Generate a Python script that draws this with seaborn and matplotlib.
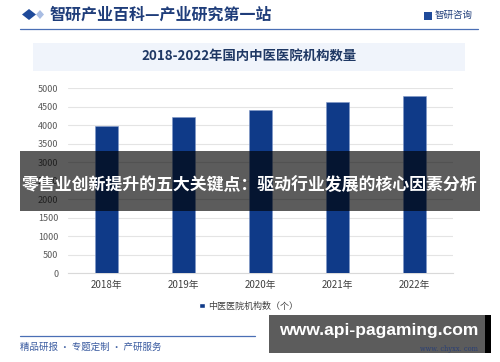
import matplotlib
matplotlib.use("Agg")
import matplotlib.pyplot as plt
import seaborn as sns
import pandas as pd
from matplotlib.patches import Rectangle, Polygon

# ---- data ----
years = ["2018年", "2019年", "2020年", "2021年", "2022年"]
counts = [3977, 4221, 4426, 4630, 4779]
yticks = [0, 500, 1000, 1500, 2000, 2500, 3000, 3500, 4000, 4500, 5000]
series_name = "中医医院机构数（个）"
header_title = "智研产业百科—产业研究第一站"
chart_title = "2018-2022年国内中医医院机构数量"
overlay_text = "零售业创新提升的五大关键点：驱动行业发展的核心因素分析"
footer_text = "精品研报 · 专题定制 · 产研服务"
logo_text = "智研咨询"
site_text = "www.api-pagaming.com"
small_site = "www. chyxx. com"

sns.set_theme(style="white")
plt.rcParams['font.family'] = ['Noto Sans CJK SC', 'DejaVu Sans']

W, H = 500, 362
fig = plt.figure(figsize=(5, 3.62), dpi=100)
fig.patch.set_facecolor("white")

def fx(x):
    return x / W

def fy(y):
    return 1 - y / H

bar_color = "#0f3a88"

# ---- axes ----
ax = fig.add_axes([fx(68), fy(273.3), fx(453) - fx(68), fy(88.3) - fy(273.3)])
ax.set_facecolor((1, 1, 1, 0))
df = pd.DataFrame({"year": years, "count": counts})
sns.barplot(data=df, x="year", y="count", color=bar_color, saturation=1, width=0.305,
            edgecolor="#7f97c8", linewidth=0.4, ax=ax, zorder=3)
ax.set_ylim(0, 5000)
ax.set_xlim(-0.5, 4.5)
ax.set_yticks(yticks)
ax.set_yticklabels([str(v) for v in yticks])
ax.grid(axis="y", color="#e4e4e4", linewidth=0.8)
ax.grid(axis="x", visible=False)
ax.set_axisbelow(True)
for s in ["top", "right", "left"]:
    ax.spines[s].set_visible(False)
ax.spines["bottom"].set_color("#d9d9d9")
ax.spines["bottom"].set_linewidth(0.8)
ax.tick_params(axis="y", length=0, pad=7, labelsize=6.5, labelcolor="#595959")
ax.tick_params(axis="x", length=0, pad=5, labelsize=7, labelcolor="#404040")
ax.set_xlabel("")
ax.set_ylabel("")

# legend
handle = Rectangle((0, 0), 1, 1, facecolor=bar_color)
fig.legend([handle], [series_name], loc="center", bbox_to_anchor=(fx(249), fy(306)),
           frameon=False, fontsize=6.5, handlelength=0.6, handleheight=0.6,
           handletextpad=0.4, labelcolor="#404040")

# ---- header ----
fig.patches.append(Polygon([[fx(22), fy(14.5)], [fx(29), fy(9)], [fx(36), fy(14.5)], [fx(29), fy(20)]],
                           closed=True, transform=fig.transFigure, facecolor="#1f4a9a", edgecolor="none"))
fig.patches.append(Polygon([[fx(36), fy(14.5)], [fx(40), fy(10)], [fx(44), fy(14.5)], [fx(40), fy(19)]],
                           closed=True, transform=fig.transFigure, facecolor="#a9bde3", edgecolor="none"))
fig.text(fx(50), fy(15), header_title, fontsize=11.5, fontweight="bold", color="#1f3d7a",
         ha="left", va="center")
fig.lines.append(plt.Line2D([fx(20), fx(478)], [fy(29.3), fy(29.3)], transform=fig.transFigure,
                            color="#4a6fb5", linewidth=0.9))
# logo
fig.patches.append(Rectangle((fx(424), fy(20)), fx(8), 8 / H, transform=fig.transFigure,
                             facecolor="#1f4a9a", edgecolor="none"))
fig.text(fx(435), fy(15.5), logo_text, fontsize=6.8, color="#1f3d7a", ha="left", va="center")

# title box
fig.patches.append(Rectangle((fx(33), fy(71)), fx(465) - fx(33), 28 / H, transform=fig.transFigure,
                             facecolor="#f0f4fb", edgecolor="none", zorder=0.5))
fig.text(fx(249.5), fy(57), chart_title, fontsize=9.6, fontweight="bold", color="#1f3864",
         ha="center", va="center")

# footer
fig.lines.append(plt.Line2D([fx(20), fx(255)], [fy(335.5), fy(335.5)], transform=fig.transFigure,
                            color="#4a6fb5", linewidth=0.9))
fig.text(fx(20), fy(347), footer_text, fontsize=6.8, color="#3a5ba0", ha="left", va="center")

# ---- overlay band ----
fig.patches.append(Rectangle((fx(20), fy(210.5)), fx(480) - fx(20), 59.5 / H, transform=fig.transFigure,
                             facecolor="black", alpha=0.64, edgecolor="none", zorder=10))
fig.text(fx(249), fy(185), overlay_text, fontsize=12.2, fontweight="bold", color="white",
         ha="center", va="center", zorder=11)

# ---- bottom-right site box ----
fig.patches.append(Rectangle((fx(269), fy(353)), fx(485) - fx(269), 38 / H, transform=fig.transFigure,
                             facecolor="#5c5c5c", edgecolor="none", zorder=10))
fig.patches.append(Rectangle((fx(485), fy(353)), fx(491) - fx(485), 38 / H, transform=fig.transFigure,
                             facecolor="black", edgecolor="none", zorder=10))
fig.text(fx(379), fy(331), site_text, fontsize=12.6, fontweight="bold", color="white",
         family=["Liberation Sans", "DejaVu Sans"], ha="center", va="center", zorder=11)
fig.text(fx(449), fy(349), small_site, fontsize=4.8, color="#2a3f75",
         family=["DejaVu Serif"], ha="center", va="center", zorder=11)

fig.savefig("out.png", dpi=100, facecolor="white")
